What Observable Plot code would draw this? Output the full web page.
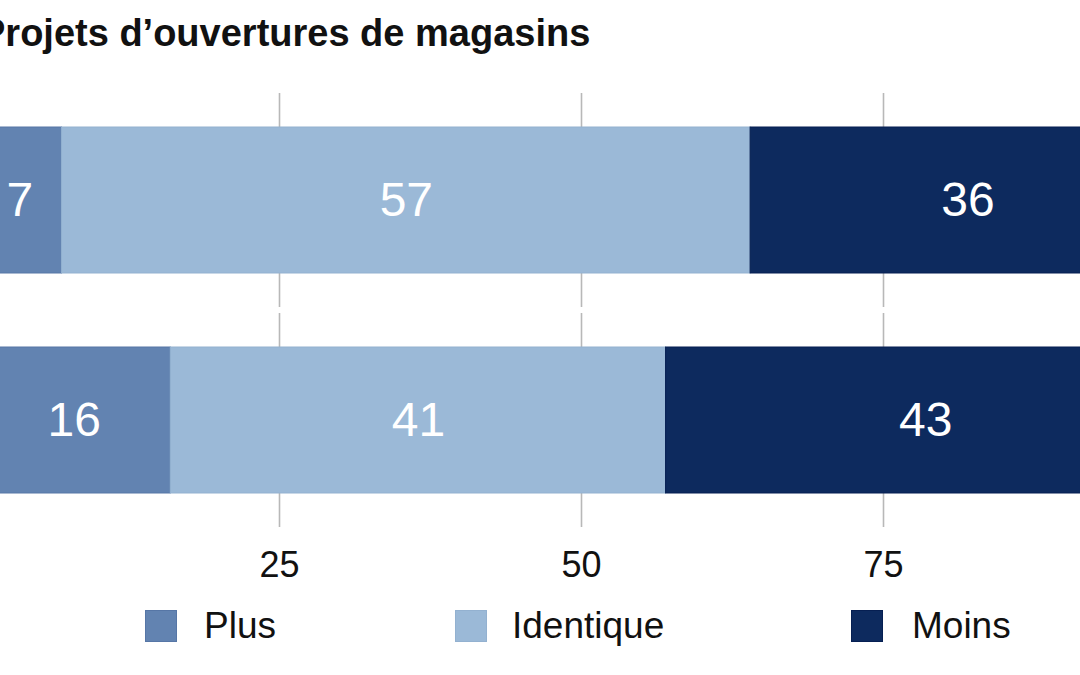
<!DOCTYPE html>
<html>
<head>
<meta charset="utf-8">
<script src="https://cdn.jsdelivr.net/npm/d3@7"></script>
<script src="https://cdn.jsdelivr.net/npm/@observablehq/plot@0.6"></script>
<style>
  html, body { margin: 0; padding: 0; width: 1080px; height: 675px; overflow: hidden; background: #fff; font-family: "Liberation Sans", Arial, sans-serif; }
  #wrap { position: relative; width: 1080px; height: 675px; }
  #title { position: absolute; left: -20px; top: 14px; font-weight: bold; font-size: 38px; line-height: 38px; color: #111; white-space: nowrap; }
  #chart { position: absolute; left: 0; top: 70px; width: 1080px; }
  #chart svg { overflow: hidden; }
  .leg { position: absolute; top: 609px; height: 33px; font-size: 37px; line-height: 33px; color: #111; white-space: nowrap; }
  .sw { position: absolute; top: 610px; width: 32px; height: 32px; box-sizing: border-box; }
</style>
</head>
<body>
<div id="wrap">
  <div id="title">Projets d’ouvertures de magasins</div>
  <div id="chart"></div>
</div>
<script>
const groups = ["Groupe 1", "Groupe 2"];
const categories = ["Plus", "Identique", "Moins"];
const plusValues = [7, 16];
const identiqueValues = [57, 41];
const moinsValues = [36, 43];
const xTicks = [25, 50, 75];
const colors = ["#6283b1", "#9bb9d7", "#0d2a5e"];
const strokes = ["#5676a6", "#93b1d0", "#061f52"];

const series = [plusValues, identiqueValues, moinsValues];
const rows = [];
groups.forEach((g, gi) => {
  categories.forEach((c, ci) => {
    rows.push({group: g, cat: c, value: series[ci][gi]});
  });
});

const chart = Plot.plot({
  width: 1080,
  height: 520,
  marginTop: 23,
  marginBottom: 63,
  marginLeft: 0,
  marginRight: 0,
  style: {fontFamily: "'Liberation Sans', Arial, sans-serif", background: "white", overflow: "hidden"},
  x: {domain: [0, 100], range: [-23, 1185]},
  fy: {domain: groups, paddingInner: 0.0273, paddingOuter: 0, axis: null},
  color: {domain: categories, range: colors},
  marks: [
    Plot.gridX(xTicks, {stroke: "#b8b8b8", strokeOpacity: 1, strokeWidth: 1.6}),
    Plot.barX(rows, Plot.stackX({
      x: "value", fy: "group", fill: "cat",
      stroke: d => strokes[categories.indexOf(d.cat)], strokeWidth: 1,
      insetTop: 34, insetBottom: 34
    })),
    Plot.text(rows, Plot.stackX({
      x: "value", fy: "group", text: d => String(d.value),
      fill: "white", fontSize: 48
    })),
    Plot.axisX(xTicks, {
      anchor: "bottom", tickSize: 0, tickPadding: 24, fontSize: 36,
      fill: "#111", tickFormat: d => String(d), label: null
    })
  ]
});
document.getElementById("chart").appendChild(chart);

// legend
const wrap = document.getElementById("wrap");
const swX = [145, 455, 851];
const txtX = [204, 512, 912];
categories.forEach((c, i) => {
  const s = document.createElement("div");
  s.className = "sw";
  s.style.left = swX[i] + "px";
  s.style.background = colors[i];
  s.style.border = "1px solid " + strokes[i];
  wrap.appendChild(s);
  const t = document.createElement("div");
  t.className = "leg";
  t.style.left = txtX[i] + "px";
  t.textContent = c;
  wrap.appendChild(t);
});
</script>
</body>
</html>
